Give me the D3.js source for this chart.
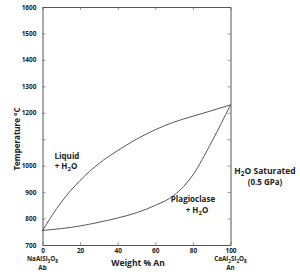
<!DOCTYPE html>
<html>
<head>
<meta charset="utf-8">
<script src="https://cdn.jsdelivr.net/npm/d3@7"></script>
<style>
  body { margin: 0; background: #fff; }
  svg { display: block; font-family: "Open Sans", sans-serif; font-weight: bold; }
  .tick text { font-size: 6.5px; fill: #222; }
</style>
</head>
<body>
<div class="chart"></div>
<script>
// weight % An
const anContent = [0, 10, 20, 30, 40, 50, 60, 70, 80, 90, 100];
// liquidus (upper curve), deg C
const liquidus = [755, 862, 944, 1008, 1057, 1100, 1136, 1165, 1187, 1208, 1230];
// solidus (lower curve), deg C
const solidus = [755, 762, 772, 786, 802, 822, 850, 888, 965, 1090, 1230];
const xTicks = [0, 20, 40, 60, 80, 100];
const yTicks = [700, 800, 900, 1000, 1100, 1200, 1300, 1400, 1500, 1600];
const yLabels = {700: "700", 800: "800", 900: "900", 1000: "1000", 1100: "", 1200: "1200", 1300: "1300", 1400: "1400", 1500: "1500", 1600: "1600"};

const width = 300, height = 274;
const margin = { top: 7, right: 69.5, bottom: 29, left: 42.5 };

const svg = d3.select(".chart").append("svg")
  .attr("width", width)
  .attr("height", height);

const x = d3.scaleLinear().domain([0, 100]).range([margin.left, width - margin.right]);
const y = d3.scaleLinear().domain([700, 1600]).range([height - margin.bottom, margin.top]);

const axisColor = "#555";

// axes, ticks pointing inward
const bottomAxis = svg.append("g")
  .attr("transform", `translate(0,${y(700)})`)
  .call(d3.axisBottom(x).tickValues(xTicks).tickSizeInner(-3).tickSizeOuter(0).tickPadding(3));
const leftAxis = svg.append("g")
  .attr("transform", `translate(${x(0)},0)`)
  .call(d3.axisLeft(y).tickValues(yTicks).tickFormat(d => yLabels[d]).tickSizeInner(-3).tickSizeOuter(0).tickPadding(6));
const topAxis = svg.append("g")
  .attr("transform", `translate(0,${y(1600)})`)
  .call(d3.axisTop(x).tickValues(xTicks).tickFormat("").tickSizeInner(-3).tickSizeOuter(0));
const rightAxis = svg.append("g")
  .attr("transform", `translate(${x(100)},0)`)
  .call(d3.axisRight(y).tickValues(yTicks).tickFormat("").tickSizeInner(-3).tickSizeOuter(0));

[bottomAxis, leftAxis, topAxis, rightAxis].forEach(g => {
  g.attr("font-family", null).attr("font-size", null);
  g.select(".domain").attr("stroke", axisColor).attr("stroke-width", 1);
  g.selectAll(".tick line").attr("stroke", axisColor).attr("stroke-width", 0.6);
});

// curves
const line = d3.line().x((d, i) => x(anContent[i])).y(d => y(d)).curve(d3.curveMonotoneX);
[liquidus, solidus].forEach(s => {
  svg.append("path")
    .attr("d", line(s))
    .attr("fill", "none")
    .attr("stroke", "#444")
    .attr("stroke-width", 0.9);
});

// text
function label(tx, ty, parts, size, anchor) {
  const t = svg.append("text")
    .attr("x", tx).attr("y", ty)
    .attr("font-size", size)
    .attr("text-anchor", anchor || "middle")
    .attr("fill", "#222");
  parts.forEach(p => {
    const s = t.append("tspan").text(p.t);
    if (p.sub) s.attr("font-size", size * 0.75).attr("dy", size * 0.25);
    if (p.up) s.attr("dy", -size * 0.25);
  });
  return t;
}

svg.append("text")
  .attr("transform", "translate(20,139) rotate(-90)")
  .attr("text-anchor", "middle")
  .attr("font-size", 8)
  .attr("fill", "#222")
  .text("Temperature °C");

label(138, 266, [{t: "Weight % An"}], 8.5);

label(x(0), 261, [{t: "NaAlSi"}, {t: "3", sub: true}, {t: "O", up: true}, {t: "8", sub: true}], 6.3);
label(x(0), 270, [{t: "Ab"}], 6.3);
label(x(100), 261, [{t: "CaAl"}, {t: "2", sub: true}, {t: "Si", up: true}, {t: "2", sub: true}, {t: "O", up: true}, {t: "8", sub: true}], 6.3);
label(x(100), 270, [{t: "An"}], 6.3);

label(67, 159, [{t: "Liquid"}], 8);
label(66, 169, [{t: "+ H"}, {t: "2", sub: true}, {t: "O", up: true}], 8);

label(193, 202, [{t: "Plagioclase"}], 8);
label(197, 213, [{t: "+ H"}, {t: "2", sub: true}, {t: "O", up: true}], 8);

label(265, 174, [{t: "H"}, {t: "2", sub: true}, {t: "O Saturated", up: true}], 8.5);
label(265, 185, [{t: "(0.5 GPa)"}], 8);
</script>
</body>
</html>
